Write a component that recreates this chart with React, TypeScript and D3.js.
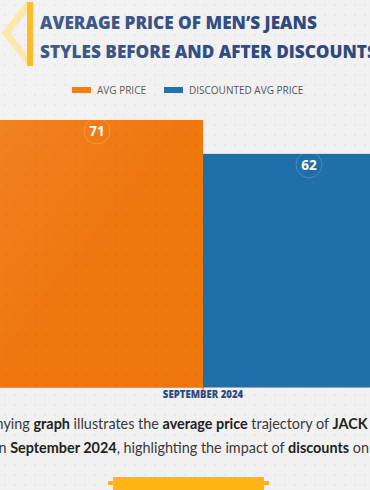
import React from "react";
import * as d3 from "d3";

const categories = ["SEPTEMBER 2024"];
const seriesNames = ["AVG PRICE", "DISCOUNTED AVG PRICE"];
const avgPrice = [71];
const discountedAvgPrice = [62];
const seriesColors = ["#f0760e", "#1f6fab"];

const titleLines = ["AVERAGE PRICE OF MEN\u2019S JEANS", "STYLES BEFORE AND AFTER DISCOUNTS"];

const W = 370;
const H = 490;
const baseY = 387;
const navy = "#2e4a7e";

function App() {
  const values = [avgPrice, discountedAvgPrice];

  const x0 = d3.scaleBand().domain(categories).range([-9, 415]).padding(0);
  const x1 = d3.scaleBand().domain(seriesNames).range([0, x0.bandwidth()]).padding(0);
  const y = d3.scaleLinear().domain([0, 71]).range([baseY, 120]);

  const font = "'Open Sans', 'DejaVu Sans', sans-serif";

  return (
    <svg
      width={W}
      height={H}
      style={{ position: "fixed", left: 0, top: 0, fontFamily: font }}
    >
      <defs>
        <pattern id="dots" width="10" height="10" patternUnits="userSpaceOnUse">
          <circle cx="5" cy="5" r="1.1" fill="#000" fillOpacity="0.05" />
        </pattern>
        <linearGradient id="shine" x1="0" y1="0" x2="1" y2="1">
          <stop offset="0" stopColor="#fff" stopOpacity="0.12" />
          <stop offset="0.4" stopColor="#fff" stopOpacity="0" />
        </linearGradient>
      </defs>
      <rect width={W} height={H} fill="#f1f1f1" />
      <rect width={W} height={H} fill="url(#dots)" />

      {/* header ornament */}
      <polyline
        points="29,4 6,33 29,62"
        fill="none"
        stroke="#fde4a3"
        strokeWidth="7"
        strokeLinejoin="miter"
      />
      <rect x={27} y={2} width={6} height={64} fill="#fdb515" />
      {titleLines.map((t, i) => (
        <text
          key={t}
          x={40}
          y={29 + i * 29}
          fill={navy}
          fontSize={17.2}
          fontWeight={800}
        >
          {t}
        </text>
      ))}

      {/* legend */}
      {seriesNames.map((s, i) => {
        const lx = i === 0 ? 72 : 164;
        return (
          <g key={s}>
            <rect x={lx} y={87} width={19} height={6} fill={seriesColors[i]} />
            <text x={lx + 25} y={94} fontSize={10} fill="#555">
              {s}
            </text>
          </g>
        );
      })}

      {/* bars */}
      {categories.map((c, ci) => (
        <g key={c} transform={`translate(${x0(c)},0)`}>
          {seriesNames.map((s, si) => {
            const v = values[si][ci];
            const bx = x1(s)!;
            const cx = bx + x1.bandwidth() / 2;
            return (
              <g key={s}>
                <rect
                  x={bx}
                  y={y(v)}
                  width={x1.bandwidth()}
                  height={baseY - y(v)}
                  fill={seriesColors[si]}
                />
                <rect
                  x={bx}
                  y={y(v)}
                  width={x1.bandwidth()}
                  height={baseY - y(v)}
                  fill="url(#dots)"
                />
                <circle
                  cx={cx}
                  cy={y(v) + 11}
                  r={13}
                  fill="none"
                  stroke="#fff"
                  strokeOpacity={0.2}
                />
                <text
                  x={cx}
                  y={y(v) + 16}
                  textAnchor="middle"
                  fill="#fff"
                  fontSize={13.5}
                  fontWeight={700}
                >
                  {v}
                </text>
              </g>
            );
          })}
        </g>
      ))}

      {/* axis */}
      <line x1={0} x2={W} y1={baseY + 0.5} y2={baseY + 0.5} stroke="#9aa6b8" />
      {categories.map((c) => {
        const cx = x0(c)! + x0.bandwidth() / 2;
        return (
          <g key={c}>
            <line x1={cx} x2={cx} y1={baseY} y2={baseY + 4} stroke="#6b7d99" />
            <text
              x={cx}
              y={398}
              textAnchor="middle"
              fill={navy}
              fontSize={9.6}
              fontWeight={800}
            >
              {c}
            </text>
          </g>
        );
      })}

      {/* description */}
      <text x={-88} y={429} fontSize={14.4} fill="#3a3a3a" fontFamily="Lato, sans-serif">
        The accompanying <tspan fontWeight={700} fill="#222">graph</tspan> illustrates the{" "}
        <tspan fontWeight={700} fill="#222">average price</tspan> trajectory of{" "}
        <tspan fontWeight={700} fill="#222">JACK &amp; JONES</tspan>
      </text>
      <text x={-5} y={453} fontSize={14.4} fill="#3a3a3a" fontFamily="Lato, sans-serif">
        in <tspan fontWeight={700} fill="#222">September 2024</tspan>, highlighting the impact of{" "}
        <tspan fontWeight={700} fill="#222">discounts</tspan> on prices.
      </text>

      {/* button */}
      <rect x={108} y={481} width={5} height={4} fill="#fdb515" />
      <rect x={264} y={481} width={5} height={4} fill="#fdb515" />
      <rect x={113} y={477} width={151} height={20} fill="#fdb515" />
      <rect width={W} height={H} fill="url(#shine)" pointerEvents="none" />
    </svg>
  );
}

export default App;
